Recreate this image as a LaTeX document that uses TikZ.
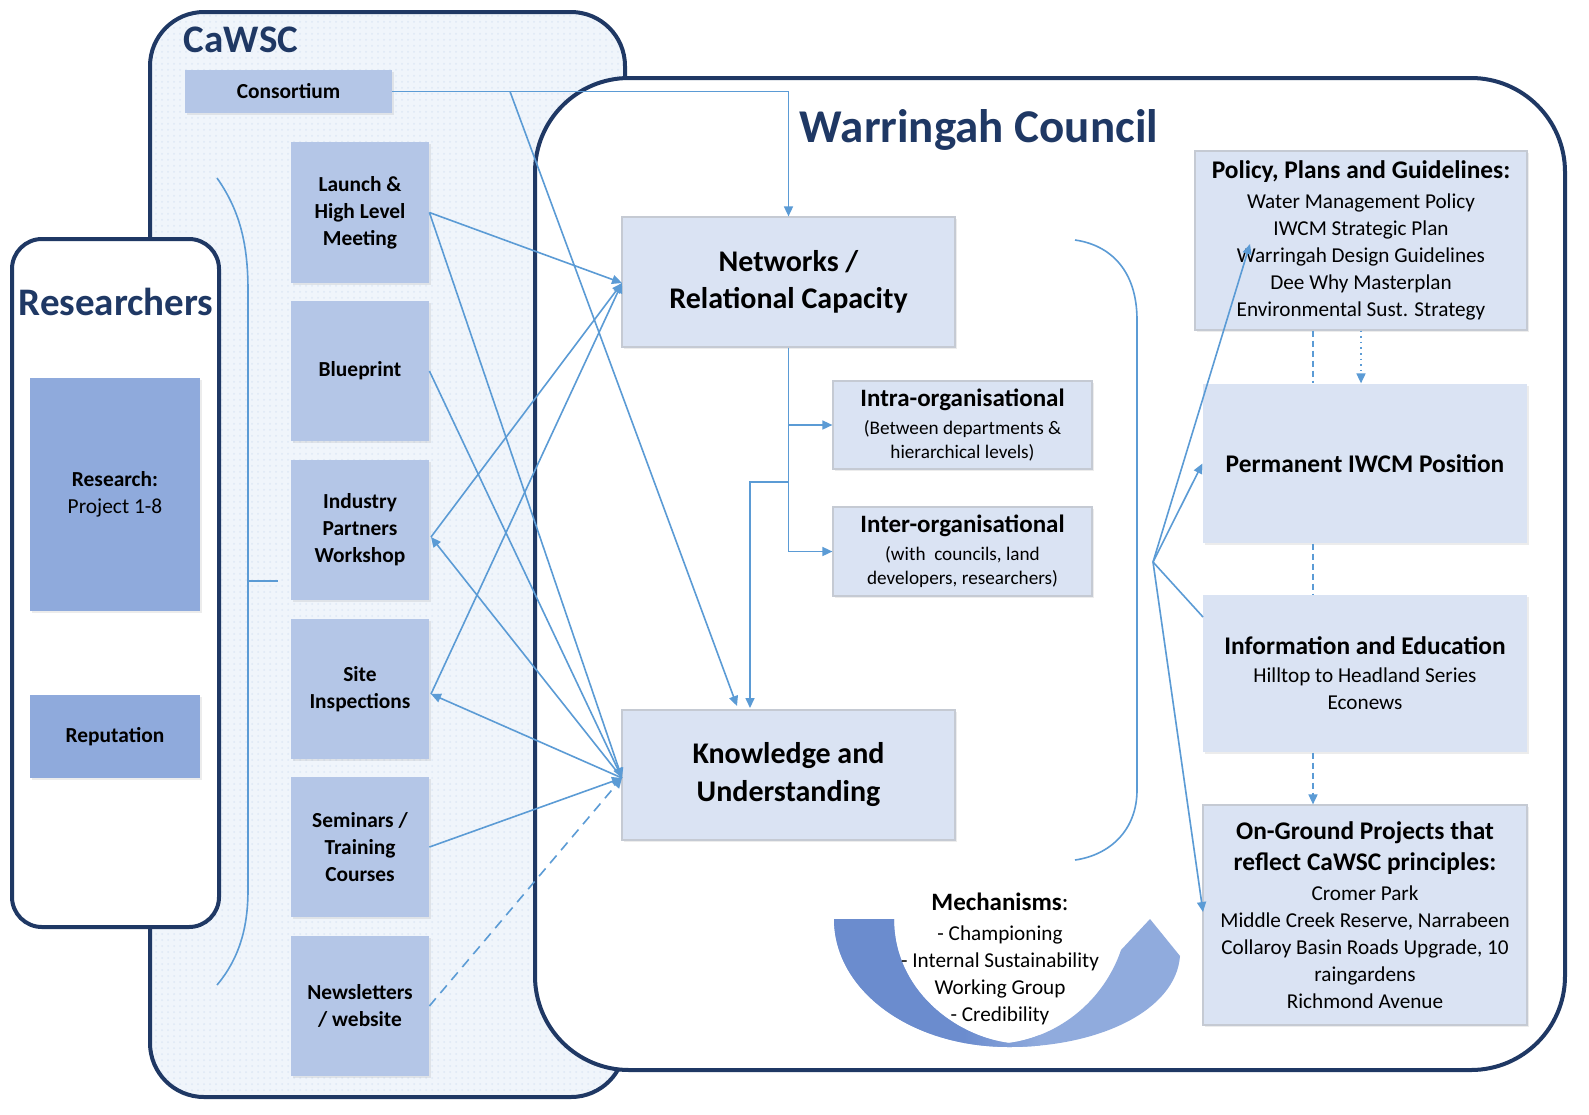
\documentclass[tikz,border=0pt]{standalone}
\usepackage{fontspec}
\setmainfont{Carlito}
\usetikzlibrary{arrows.meta,shadows,patterns,calc}
\definecolor{navy}{HTML}{1F3864}
\definecolor{linkblue}{HTML}{5B9BD5}
\definecolor{cblue}{HTML}{B4C6E7}
\definecolor{rblue}{HTML}{8FAADC}
\definecolor{wblue}{HTML}{DAE3F3}
\definecolor{cawscbg}{HTML}{F0F5FB}
\definecolor{cawscdot}{HTML}{DEE8F5}
\definecolor{mechdark}{HTML}{6B8CCE}
\definecolor{mechlight}{HTML}{90ABDD}
\definecolor{boxedge}{HTML}{C5CAD3}
\newcommand\boxhead{\fontsize{12.7}{13.5}\selectfont\bfseries}
\tikzset{
  wh/.style 2 args={minimum width=#1*0.5pt, minimum height=#2*0.5pt},
  outerbox/.style={draw=navy, line width=2pt},
  softshadow/.style={drop shadow={shadow xshift=1.2pt, shadow yshift=-1.2pt, opacity=0.15}},
  cbox/.style={fill=cblue, inner sep=0pt, align=center, softshadow,
    font=\fontsize{10.7}{13.5}\selectfont\bfseries},
  rbox/.style={cbox, fill=rblue},
  wbox/.style={fill=wblue, draw=boxedge, line width=0.6pt, inner sep=0pt, align=center, softshadow,
    font=\fontsize{10.6}{13.5}\selectfont},
  wboxplain/.style={wbox, draw=none},
  bigtitle/.style={text=navy, inner sep=0pt, font=\fontsize{19.5}{22}\selectfont\bfseries},
  link/.style={draw=linkblue, line width=0.8pt},
  arr/.style={-{Triangle[length=5pt,width=4.5pt]}},
  dlink/.style={link, dash pattern=on 3pt off 2pt},
}
\begin{document}
\begin{tikzpicture}[x=0.5pt,y=-0.5pt]
\useasboundingbox (0,0) rectangle (1589,1114);

% ---------- CaWSC frame ----------
\node[outerbox, rounded corners=27pt, wh={475}{1085}, preaction={fill=cawscbg},
      pattern=dots, pattern color=cawscdot] (cawsc) at (387.5,554.5) {};
\node[bigtitle] (cawsctitle) at (241,40) {CaWSC};

\node[cbox, wh={207}{43}] (cons) at (288.5,91.5) {Consortium};
\node[cbox, wh={138}{141}] (launch) at (360,212.5) {Launch \&\\High Level\\Meeting};
\node[cbox, wh={138}{140}] (blue) at (360,371) {Blueprint};
\node[cbox, wh={138}{140}] (ind) at (360,530) {Industry\\Partners\\Workshop};
\node[cbox, wh={138}{140}] (site) at (360,689) {Site\\Inspections};
\node[cbox, wh={138}{140}] (sem) at (360,847) {Seminars /\\Training\\Courses};
\node[cbox, wh={138}{140}] (news) at (360,1006) {Newsletters\\/ website};

% left bracket
\draw[link] (217,178) .. controls (238,208) and (248,240) .. (248,290) -- (248,890)
            .. controls (248,930) and (238,960) .. (217,985);
\coordinate (tickA) at (248,581);
\coordinate (tickB) at (278,581);
\draw[link] (tickA) -- (tickB);

% ---------- Researchers frame ----------
\node[outerbox, fill=white, rounded corners=15pt, wh={207}{688}] (resf) at (115.5,583) {};
\node[bigtitle] (restitle) at (116,302) {Researchers};
\node[rbox, wh={170}{233}] (research) at (115,494.5) {Research:\\{\mdseries Project 1-8}};
\node[rbox, wh={170}{83}] (rep) at (115,736.5) {Reputation};

% ---------- Warringah frame ----------
\node[outerbox, fill=white, rounded corners=47pt, wh={1030}{992}] (warf) at (1050,574) {};
\node[bigtitle, font=\fontsize{23.5}{26}\selectfont\bfseries] (wtitle) at (979,130) {Warringah Council};

\node[wbox, font=\fontsize{15}{18.5}\selectfont\bfseries, wh={333}{130}] (net) at (788.5,282)
  {Networks /\\Relational Capacity};
\node[wbox, font=\fontsize{15}{19}\selectfont\bfseries, wh={333}{130}] (know) at (788.5,775)
  {Knowledge and\\Understanding};
\node[wbox, font=\fontsize{9.6}{12}\selectfont, wh={259}{88}] (intra) at (962.5,425)
  {{\fontsize{12.5}{12}\selectfont\bfseries Intra-organisational}\\[2pt](Between departments \&\\hierarchical levels)};
\node[wbox, font=\fontsize{9.6}{12}\selectfont, wh={259}{89}] (inter) at (962.5,551.5)
  {{\fontsize{12.5}{12}\selectfont\bfseries Inter-organisational}\\[2pt](with\ \ councils, land\\developers, researchers)};

\node[wbox, wh={332}{179}] (pol) at (1361,240.5)
  {{\boxhead Policy, Plans and Guidelines:}\\[1.5pt]Water Management Policy\\IWCM Strategic Plan\\Warringah Design Guidelines\\Dee Why Masterplan\\Environmental Sust. Strategy};
\node[wboxplain, wh={324}{159}] (perm) at (1365,463.5) {\boxhead Permanent IWCM Position};
\node[wboxplain, wh={324}{157}] (info) at (1365,673.5)
  {{\boxhead Information and Education}\\[0.5pt]Hilltop to Headland Series\\Econews};
\node[wbox, wh={324}{220}] (ong) at (1365,915)
  {{\boxhead On-Ground Projects that}\\[2pt]{\boxhead reflect CaWSC principles:}\\[1.5pt]Cromer Park\\Middle Creek Reserve, Narrabeen\\Collaroy Basin Roads Upgrade, 10\\raingardens\\Richmond Avenue};

% right bracket
\draw[link] (1075,240) .. controls (1110,245) and (1137,270) .. (1137,320) -- (1137,790)
            .. controls (1137,830) and (1110,855) .. (1075,860);

% ---------- Mechanisms crescent ----------
\def\mechpath{(834,919) -- (894,919) .. controls (894,990) and (955,1036) .. (1009,1043)
   .. controls (1060,1036) and (1104,1000) .. (1121,950) -- (1150,919) -- (1180,956)
   .. controls (1176,1010) and (1100,1047) .. (1009,1047)
   .. controls (910,1047) and (834,990) .. (834,919) -- cycle}
\begin{scope}
  \clip \mechpath;
  \fill[mechlight] (820,900) rectangle (1200,1060);
  \fill[mechdark] (820,900) rectangle (965,1060);
  \shade[left color=mechdark, right color=mechlight] (964,900) rectangle (1040,1060);
\end{scope}
\node[font=\fontsize{10.6}{13.5}\selectfont, align=center, inner sep=0pt] (mech) at (1000,959)
  {{\fontsize{12.5}{13.5}\selectfont\bfseries Mechanisms}{\fontsize{12.5}{13.5}\selectfont:}\\[1.5pt]- Championing\\- Internal Sustainability\\Working Group\\- Credibility};

% ---------- connectors ----------
\coordinate (consb) at (510,91.5);
\coordinate (kcons) at (737,706);
\coordinate (netin) at (622,283);
\coordinate (kin) at (622,778);
\coordinate (indp) at (431,537);
\coordinate (sitep) at (431,694);
\coordinate (kbr) at (788.5,482);
\coordinate (kdown) at (750,708);

\draw[link, arr] (cons.east) -| (net.north);
\draw[link, arr] (consb) -- (kcons);
\draw[link, arr] (net.south) |- (inter.west);
\draw[link, arr] (net.south |- intra.west) -- (intra.west);
\draw[link, arr] (kbr) -| (kdown);

\draw[link, arr] (launch.east) -- (netin);
\draw[link, arr] (launch.east) -- (kin);
\draw[link, arr] (blue.east) -- (kin);
\draw[link, arr] (indp) -- (netin);
\draw[link, arr] (kin) -- (indp);
\draw[link, arr] (sitep) -- (netin);
\draw[link, arr] (kin) -- (sitep);
\draw[link, arr] (sem.east) -- (kin);
\draw[link, arr, dash pattern=on 5pt off 3.5pt] (news.east) -- (kin);

% fan to the right column
\coordinate (fan) at (1153,562);
\coordinate (poltip) at (1250,244);
\coordinate (infop) at (1203,617);
\coordinate (ongp) at (1203,912);
\draw[link, arr] (fan) -- (poltip);
\draw[link, arr] (fan) -- (perm.west);
\draw[link] (fan) -- (infop);
\draw[link, arr] (fan) -- (ongp);

% dashed links in the right column
\coordinate (dashx) at (1313,0);
\draw[dlink] (pol.south -| dashx) -- (perm.north -| dashx);
\draw[link, arr, dotted] (pol.south) -- (perm.north -| pol.south);
\draw[dlink] (perm.south -| dashx) -- (info.north -| dashx);
\draw[dlink, arr] (info.south -| dashx) -- (ong.north -| dashx);
\end{tikzpicture}
\end{document}
